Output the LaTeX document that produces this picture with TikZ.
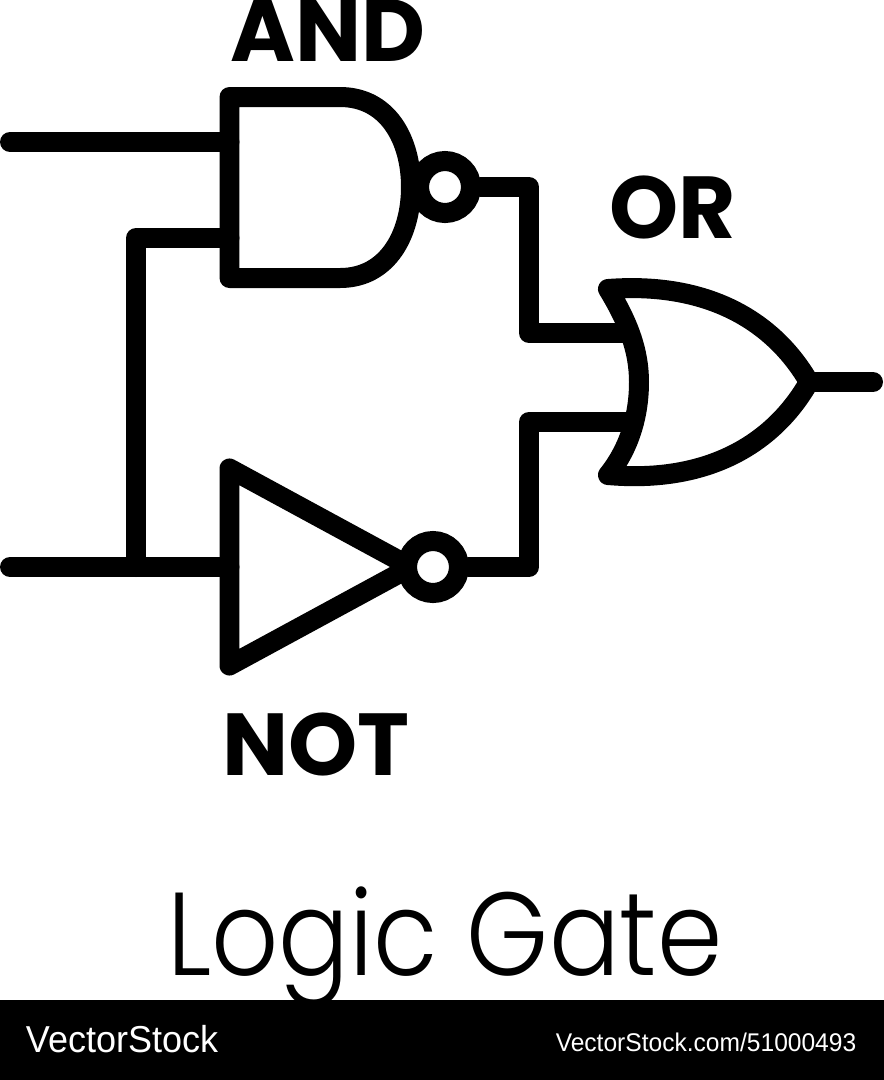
\documentclass[tikz,border=0pt]{standalone}
\usepackage{fontspec}
\setmainfont{Poppins}
\newfontfamily\titlefont[FakeStretch=0.89]{Poppins Light}
\newfontfamily\logofont[FakeStretch=0.96]{Liberation Sans}
\usepackage{tikz}
\tikzset{
  wire/.style={line width=0.4cm, line cap=round, line join=round},
  bubble/.style={circle,draw,fill=white,line width=0.4cm,minimum size=1.04cm,inner sep=0pt},
  boldlabel/.style={anchor=base,font=\fontsize{1.76cm}{1.76cm}\selectfont\bfseries,inner sep=0pt},
}
\begin{document}
\begin{tikzpicture}[x=0.02cm,y=-0.02cm]
  \useasboundingbox (0,0) rectangle (884,1080);
  % footer band
  \fill[black] (0,1000) rectangle (884,1080);
  % free wire ends
  \coordinate (inA) at (10,142);
  \coordinate (inB) at (10,567);
  \coordinate (outF) at (873,382);
  \coordinate (topA) at (229.5,142);
  \coordinate (botA) at (229.5,238);
  \coordinate (inN) at (229.5,567);
  \coordinate (orT) at (628,333);
  \coordinate (orB) at (634,422);
  \coordinate (tipOr) at (809,382);
  % wires
  \draw[wire] (inA) -- (topA);
  \draw[wire] (inB) -- (inN);
  \draw[wire] (botA) -- (136,238) -- (136,567);
  % AND gate with bubble
  \draw[wire] (229.5,97) -- (340,97) .. controls (388,97) and (411,140) .. (411,187)
     .. controls (411,234) and (388,278) .. (340,278) -- (229.5,278) -- cycle;
  \node[bubble] (bubbleA) at (445,187) {};
  % NOT gate with bubble
  \draw[wire] (229.5,468.5) -- (411,567) -- (229.5,665.5) -- cycle;
  \node[bubble] (bubbleN) at (433,567) {};
  % connections to OR
  \draw[wire] (bubbleA.east) -- (529,187) -- (529,333) -- (orT);
  \draw[wire] (bubbleN.east) -- (529,567) -- (529,422) -- (orB);
  % OR gate
  \draw[wire] (608,289) .. controls (700,282) and (770,315) .. (tipOr)
     .. controls (770,450) and (700,483) .. (608,475)
     .. controls (628,450) and (639,418) .. (639,382)
     .. controls (639,350) and (628,322) .. (608,289) -- cycle;
  \draw[wire] (tipOr) -- (outF);
  % labels
  \node[boldlabel] (lblAnd) at (328,61) {AND};
  \node[boldlabel] (lblOr) at (673,238) {OR};
  \node[boldlabel] (lblNot) at (316,775) {NOT};
  \node[anchor=base,inner sep=0pt,font=\titlefont\fontsize{2.36cm}{2.36cm}\selectfont] (title) at (445,975) {Logic Gate};
  \node[anchor=base,inner sep=0pt,text=white,font=\logofont\fontsize{0.75cm}{0.75cm}\selectfont] (brand) at (122,1052) {VectorStock};
  \node[anchor=base,inner sep=0pt,text=white,font=\logofont\fontsize{0.512cm}{0.512cm}\selectfont] (url) at (706,1051) {VectorStock.com/51000493};
\end{tikzpicture}
\end{document}
